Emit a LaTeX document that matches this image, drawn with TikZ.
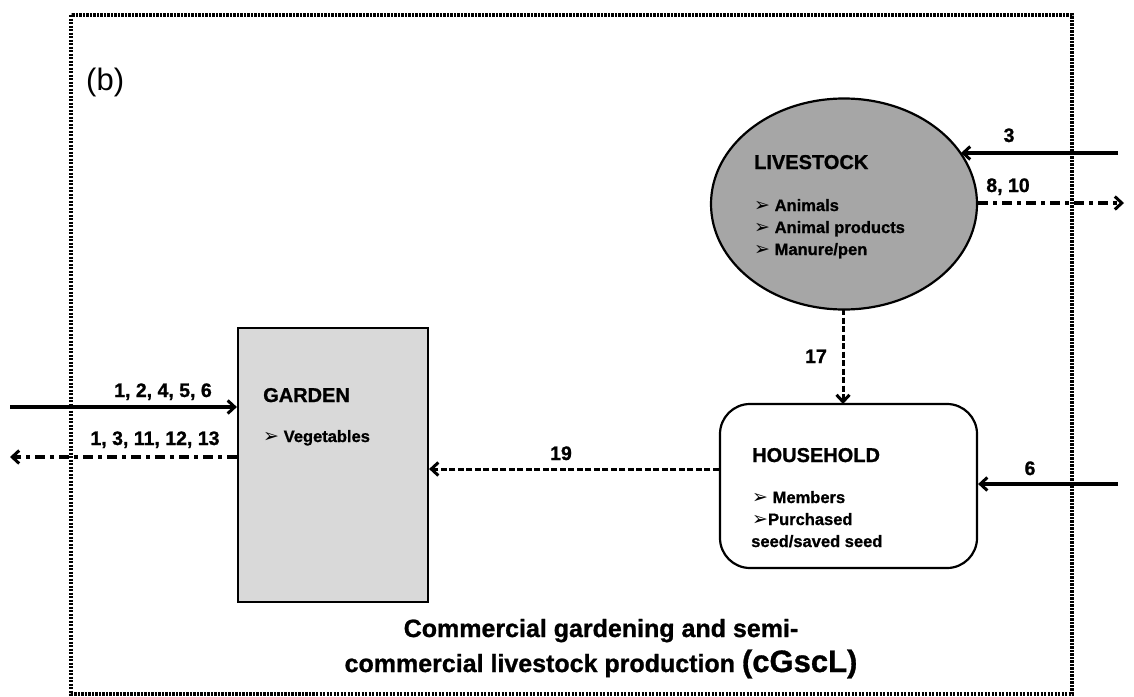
\documentclass[tikz,border=0pt]{standalone}
\usepackage{fontspec}
\setmainfont{Liberation Sans}[BoldFeatures={FakeBold=1}]
\newfontfamily\symfont{DejaVu Sans}
\usetikzlibrary{shapes.geometric,arrows.meta}

\newcommand{\bul}{{\symfont\fontsize{19}{19}\selectfont ➢}}

\tikzset{
  frame/.style={line width=3.5pt, dash pattern=on 2.4pt off 1.1pt},
  boxtitle/.style={anchor=base west, inner sep=0pt, font=\fontsize{20}{24}\selectfont\bfseries},
  boxitem/.style={anchor=base west, inner sep=0pt, font=\fontsize{16.5}{20}\selectfont\bfseries},
  flowlabel/.style={anchor=base, inner sep=0pt, font=\fontsize{19.5}{23}\selectfont\bfseries},
  tip/.style={-{Straight Barb[length=7pt,width=13pt,line width=3pt]}},
  inflow/.style={tip, line width=3.4pt},
  outflow/.style={tip, line width=3.2pt, dash pattern=on 10pt off 5pt on 4pt off 5pt},
  internal/.style={tip, line width=3pt, dash pattern=on 6pt off 2.5pt},
}

\begin{document}
\begin{tikzpicture}[x=1pt,y=-1pt]
\useasboundingbox (0,0) rectangle (1134,696);

% system boundary
\draw[frame] (71,15) rectangle (1072,694);
\node[anchor=base west, inner sep=0pt, font=\fontsize{31}{36}\selectfont] (tag) at (86,90) {(b)};

% components
\node[ellipse, draw, line width=2.2pt, fill={rgb,255:red,166;green,166;blue,166},
      minimum width=266pt, minimum height=211pt, inner sep=0pt] (live) at (844,204) {};
\node[rectangle, draw, line width=2.2pt, fill={rgb,255:red,217;green,217;blue,217},
      minimum width=190pt, minimum height=274pt, inner sep=0pt] (garden) at (333,465) {};
\node[rectangle, draw, line width=2.2pt, rounded corners=30pt, fill=white,
      minimum width=257pt, minimum height=164pt, inner sep=0pt] (house) at (848.5,486) {};

% component texts
\node[boxtitle] (liveT) at (754,169) {LIVESTOCK};
\node[boxitem] (live1) at (754,211) {\bul\ Animals};
\node[boxitem] (live2) at (754,233) {\bul\ Animal products};
\node[boxitem] (live3) at (754,255) {\bul\ Manure/pen};

\node[boxtitle] (gardenT) at (263,402) {GARDEN};
\node[boxitem] (garden1) at (263,442) {\bul\ Vegetables};

\node[boxtitle] (houseT) at (752,462) {HOUSEHOLD};
\node[boxitem] (house1) at (752,503) {\bul\ Members};
\node[boxitem] (house2) at (752,525) {\bul Purchased};
\node[boxitem] (house3) at (751,547) {seed/saved seed};

% external ends of the flows
\coordinate (inL)  at (10,407);
\coordinate (outL) at (10,457);
\coordinate (in3)  at (1118,153);
\coordinate (out8) at (1124,203);
\coordinate (in6)  at (1118,484);

% flows
\draw[inflow] (inL) -- (inL -| garden.west);
\draw[outflow] (outL -| garden.west) -- (outL);
\draw[inflow] (in3) -- (in3 -| 961,0);
\draw[outflow] (out8 -| live.east) -- (out8);
\draw[inflow] (in6) -- (in6 -| house.east);
\draw[internal] (843,309) -- (843,404);
\draw[internal] (house.west |- 0,469) -- (garden.east |- 0,469);

% flow labels
\node[flowlabel] (l1) at (163,397) {1, 2, 4, 5, 6};
\node[flowlabel] (l2) at (155,445) {1, 3, 11, 12, 13};
\node[flowlabel] (l3) at (1009,142) {3};
\node[flowlabel] (l4) at (1008,192) {8, 10};
\node[flowlabel] (l5) at (1030,475) {6};
\node[flowlabel] (l6) at (816,363) {17};
\node[flowlabel] (l7) at (561,460) {19};

% caption
\node[anchor=base, inner sep=0pt, font=\fontsize{25}{30}\selectfont\bfseries] (cap1) at (601,637) {Commercial gardening and semi-};
\node[anchor=base, inner sep=0pt, font=\fontsize{25}{30}\selectfont\bfseries] (cap2) at (601,672) {commercial livestock production {\fontsize{31}{36}\selectfont(cGscL)}};
\end{tikzpicture}
\end{document}
